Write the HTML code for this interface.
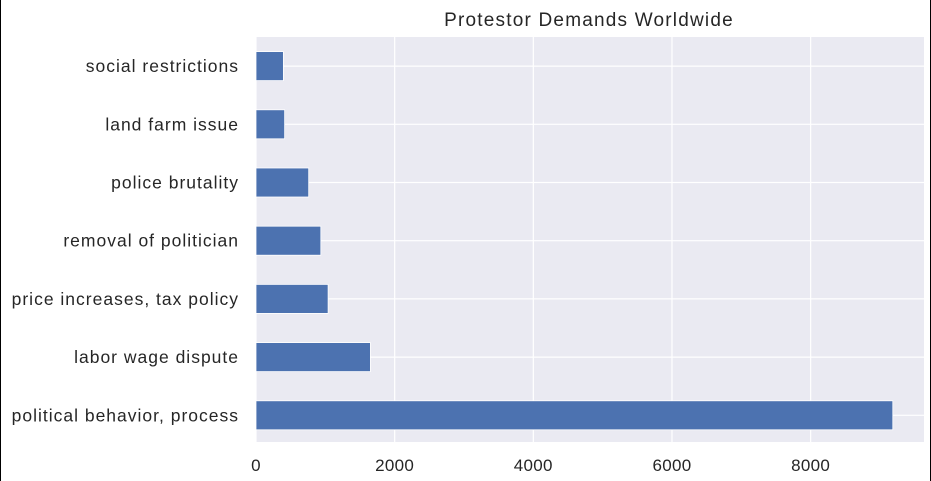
<!DOCTYPE html>
<html><head><meta charset="utf-8"><style>
body{margin:0;background:#fff;}
svg{display:block;font-family:"Liberation Sans",sans-serif;}
</style></head><body>
<svg width="931" height="481">
<line x1="0.5" y1="0" x2="0.5" y2="481" stroke="#000"/>
<line x1="930.5" y1="0" x2="930.5" y2="481" stroke="#000"/>
<rect x="256" y="37" width="668" height="405" fill="#eaeaf2"/>
<g id="grid"></g><g id="bars"></g><g id="labels"></g>
<text x="589" y="26" text-anchor="middle" font-size="19" letter-spacing="1.2" fill="#262626">Protestor Demands Worldwide</text>
</svg>
<script>
const categories=["social restrictions","land farm issue","police brutality","removal of politician","price increases, tax policy","labor wage dispute","political behavior, process"];
const values=[395,413,760,935,1040,1650,9185];
const xTicks=[0,2000,4000,6000,8000];
const X0=256,PX=0.06933,TOP=37,STEP=58.2;
const x=v=>X0+v*PX, yc=i=>TOP+STEP*(i+0.5);
const ns="http://www.w3.org/2000/svg";
function mk(t,a,p){const e=document.createElementNS(ns,t);for(const k in a)e.setAttribute(k,a[k]);document.getElementById(p).appendChild(e);return e;}
xTicks.forEach(t=>{
 const l=mk('line',{x1:x(t),x2:x(t),y1:TOP,y2:442,stroke:'#fff','stroke-width':1.2},'grid');
 
 
 const tx=mk('text',{x:x(t),y:471,'text-anchor':'middle','font-size':17,'letter-spacing':0.3,fill:'#262626'},'labels');
 tx.textContent=t;
 
 
});
categories.forEach((c,i)=>{
 const g=mk('line',{x1:X0,x2:924,y1:yc(i),y2:yc(i),stroke:'#fff','stroke-width':1.2},'grid');
 
 
 const r=mk('rect',{x:X0,y:yc(i)-14.5,width:x(values[i])-X0,height:29,fill:'#4c72b0',stroke:'#fff','stroke-width':0.8},'bars');
 
 
 const t=mk('text',{x:239,y:yc(i)+6,'text-anchor':'end','font-size':17.5,'letter-spacing':1,fill:'#262626'},'labels');
 t.textContent=c;
 
 
});
</script>
</body></html>
